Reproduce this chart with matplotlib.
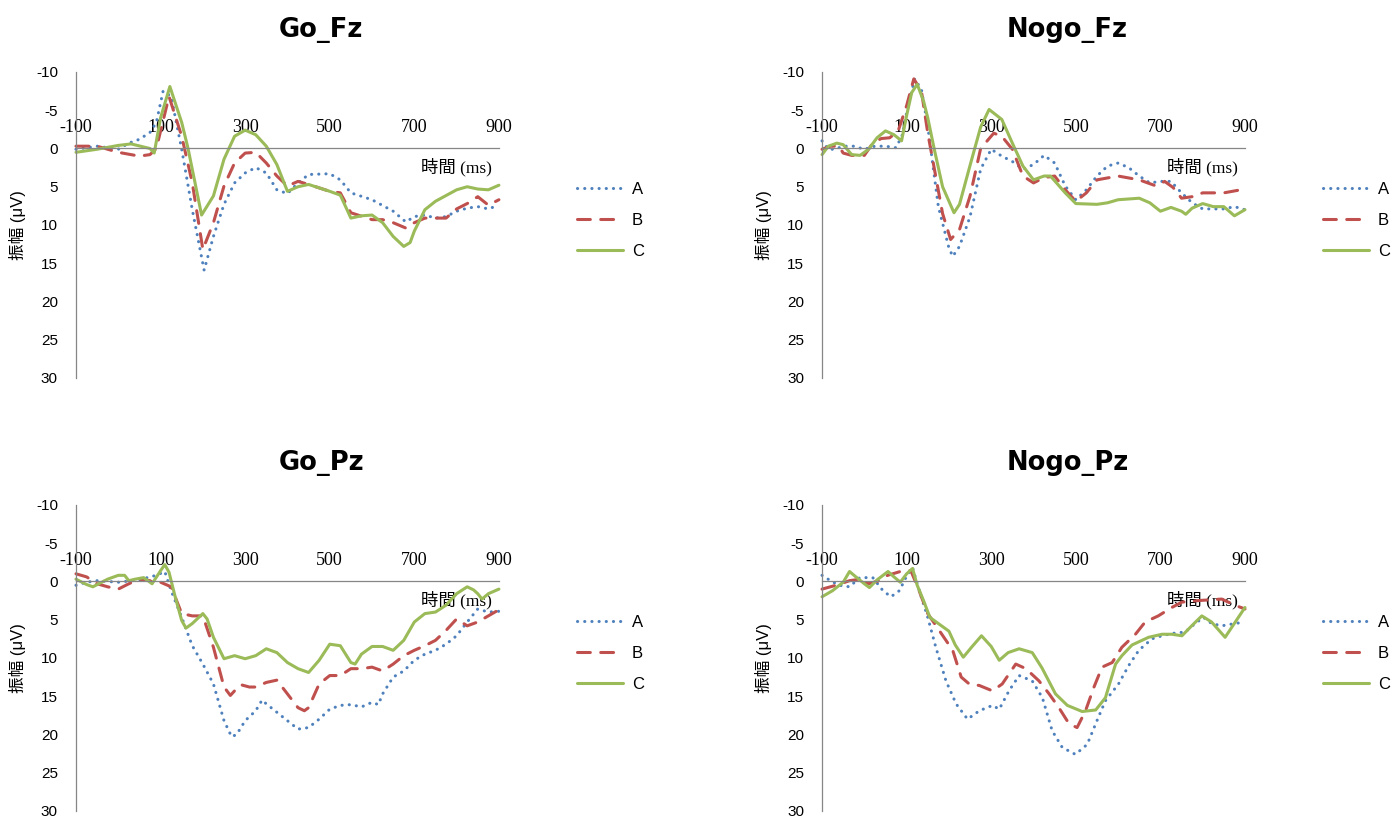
import matplotlib.pyplot as plt

# ERP waveforms (time in ms, amplitude in uV)
# Go_Fz
gofz_a_t = [-100, -50, 0, 25, 50, 75, 90, 106, 125, 150, 175, 203, 225, 250, 275, 300, 325, 350, 375, 400,
            425, 450, 500, 525, 550, 600, 650, 680, 700, 725, 750, 775, 800, 825, 850, 875, 900]
gofz_a_v = [0.1, -0.3, 0.1, -0.7, -1.2, -2.1, -3.4, -7.5, -6.8, 0.1, 8.0, 15.9, 11.5, 7.3, 4.5, 3.2, 2.5, 3.2, 5.4, 5.9,
            4.5, 3.4, 3.3, 4.1, 5.8, 6.7, 8.2, 9.6, 8.9, 8.7, 9.1, 8.9, 8.2, 7.8, 7.6, 7.9, 7.4]
gofz_b_t = [-100, -50, 0, 50, 75, 90, 120, 150, 175, 200, 225, 250, 275, 300, 325, 350, 375, 400, 425, 450,
            500, 525, 550, 600, 625, 650, 680, 700, 725, 750, 775, 800, 825, 850, 875, 900]
gofz_b_v = [-0.3, -0.3, 0.5, 1.0, 0.8, 0.0, -6.8, -1.6, 4.5, 13.2, 9.7, 4.9, 1.9, 0.6, 0.5, 1.9, 3.6, 4.9, 4.3, 4.7,
            5.6, 5.8, 8.4, 9.3, 9.3, 9.7, 10.4, 9.7, 9.1, 9.1, 9.1, 7.9, 7.2, 6.3, 7.4, 6.7]
gofz_c_t = [-100, -50, 0, 30, 75, 85, 100, 122, 150, 165, 197, 225, 250, 275, 300, 325, 350, 375, 400, 425,
            450, 500, 525, 550, 575, 600, 625, 650, 675, 690, 700, 725, 750, 800, 825, 850, 875, 900]
gofz_c_v = [0.5, 0.1, -0.4, -0.6, 0.0, 0.6, -4.0, -8.1, -3.4, 0.0, 8.7, 6.2, 1.4, -1.6, -2.4, -1.8, -0.3, 2.1, 5.6, 5.0,
            4.7, 5.6, 6.1, 9.1, 8.8, 8.7, 9.7, 11.5, 12.8, 12.3, 10.8, 8.0, 6.9, 5.4, 5.0, 5.3, 5.4, 4.8]

# Nogo_Fz
nogofz_a_t = [-100, -85, -70, -50, -25, 0, 25, 50, 75, 90, 100, 119, 135, 150, 175, 200, 209, 225, 250, 275,
              300, 325, 350, 375, 400, 425, 450, 475, 500, 525, 550, 575, 600, 625, 650, 675, 700, 725, 750, 775,
              800, 850, 875, 900]
nogofz_a_v = [-1.0, 0.1, 0.1, -0.3, -0.3, 0.1, -0.3, -0.3, -0.1, -1.8, -4.7, -9.1, -7.7, -2.9, 7.6, 13.0, 14.1, 12.8, 8.9, 2.7,
              0.1, 1.0, 1.7, 2.7, 2.1, 0.9, 1.9, 4.9, 6.7, 5.4, 3.6, 2.3, 1.9, 2.5, 3.6, 4.5, 4.3, 4.3, 5.8, 7.1,
              7.9, 7.9, 7.6, 8.0]
nogofz_b_t = [-100, -80, -60, -50, -30, 0, 20, 40, 60, 80, 100, 117, 135, 150, 170, 185, 204, 225, 250, 275,
              306, 325, 350, 375, 400, 425, 450, 475, 500, 525, 550, 600, 650, 690, 710, 730, 750, 775, 800, 850,
              900]
nogofz_b_v = [0.1, -0.3, -0.3, 0.6, 0.9, 0.9, -0.7, -1.3, -1.4, -2.3, -5.6, -9.1, -7.5, -2.0, 4.0, 8.5, 11.9, 10.6, 6.2, 0.0,
              -2.0, -1.6, 0.1, 3.6, 4.5, 3.8, 3.6, 5.4, 6.9, 5.8, 4.1, 3.6, 4.1, 4.9, 4.3, 5.1, 6.5, 6.3, 5.8, 5.8,
              5.3]
nogofz_c_t = [-100, -85, -65, -50, -30, -10, 10, 30, 50, 70, 88, 100, 112, 125, 140, 150, 165, 185, 212, 225,
              250, 275, 295, 325, 350, 375, 400, 425, 440, 475, 500, 550, 575, 600, 650, 675, 700, 725, 750, 760,
              775, 800, 825, 850, 875, 900]
nogofz_c_v = [0.8, -0.3, -0.7, -0.5, 0.8, 0.9, 0.1, -1.4, -2.3, -1.8, -1.0, -4.3, -7.3, -8.4, -6.2, -4.0, 0.0, 5.0, 8.4, 7.3,
              2.2, -2.8, -5.1, -3.8, -0.7, 2.3, 4.1, 3.6, 3.6, 5.8, 7.2, 7.3, 7.1, 6.7, 6.5, 7.1, 8.2, 7.7, 8.2, 8.6,
              7.8, 7.2, 7.6, 7.6, 8.8, 8.0]

# Go_Pz
gopz_a_t = [-100, -75, -50, 0, 50, 75, 90, 110, 125, 150, 175, 200, 225, 250, 268, 280, 300, 325, 340, 350,
            375, 400, 425, 450, 475, 500, 525, 550, 575, 600, 615, 625, 650, 675, 700, 725, 750, 775, 800, 825,
            850, 875, 900]
gopz_a_v = [0.5, 0.1, -0.1, 0.1, -0.2, -0.6, -0.8, -1.3, 1.2, 4.7, 8.4, 10.8, 13.4, 18.2, 20.3, 20.0, 18.2, 16.9, 15.5, 16.0,
            17.1, 18.2, 19.3, 19.1, 18.0, 16.7, 16.2, 16.1, 16.4, 15.8, 16.1, 14.7, 12.5, 11.7, 10.3, 9.5, 9.0, 8.2, 7.1, 5.3,
            3.6, 4.0, 3.9]
gopz_b_t = [-100, -75, -50, -25, 0, 25, 50, 75, 90, 100, 125, 150, 175, 200, 225, 250, 265, 275, 290, 310,
            325, 350, 375, 400, 425, 440, 450, 475, 500, 525, 550, 575, 600, 625, 650, 675, 700, 725, 750, 775,
            800, 825, 850, 875, 900]
gopz_b_v = [-1.0, -0.6, 0.3, 0.7, 1.0, 0.3, -0.3, -0.1, 0.5, 0.1, 0.7, 4.2, 4.5, 4.5, 8.6, 13.8, 14.9, 14.3, 13.5, 13.8,
            13.8, 13.2, 12.9, 14.7, 16.5, 16.9, 16.5, 13.4, 12.3, 12.3, 11.4, 11.4, 11.2, 11.7, 10.8, 9.7, 9.0, 8.4, 7.7, 6.4,
            4.9, 5.8, 5.3, 4.5, 3.7]
gopz_c_t = [-100, -75, -60, -25, 0, 15, 25, 40, 60, 80, 100, 110, 120, 135, 150, 160, 175, 200, 210, 225,
            250, 275, 300, 325, 350, 375, 400, 425, 450, 475, 500, 525, 550, 560, 575, 600, 625, 650, 675, 700,
            725, 750, 775, 800, 825, 840, 850, 860, 875, 900]
gopz_c_v = [-0.3, 0.4, 0.7, -0.3, -0.8, -0.8, -0.1, -0.3, -0.5, 0.3, -1.4, -2.2, -1.2, 2.1, 5.1, 6.1, 5.5, 4.2, 4.9, 7.3,
            10.1, 9.7, 10.1, 9.7, 8.8, 9.3, 10.6, 11.4, 11.9, 10.3, 8.2, 8.4, 10.6, 10.8, 9.5, 8.5, 8.5, 9.0, 7.7, 5.3,
            4.2, 4.0, 3.1, 1.6, 0.7, 1.1, 1.6, 2.3, 1.6, 1.0]

# Nogo_Pz
nogopz_a_t = [-100, -80, -60, -35, -11, 20, 44, 63, 83, 99, 114, 126, 150, 169, 193, 217, 244, 272, 303, 319,
              342, 366, 397, 421, 444, 468, 499, 527, 550, 570, 601, 625, 649, 680, 704, 727, 759, 782, 802, 821,
              845, 876, 900]
nogopz_a_v = [-0.8, -0.1, 0.5, 0.7, -0.5, -0.5, 1.2, 2.0, 1.2, -0.6, -1.8, 0.5, 4.7, 8.6, 13.0, 16.0, 18.0, 16.9, 16.2, 16.7,
              14.3, 12.3, 13.0, 15.2, 19.5, 21.7, 22.6, 21.3, 18.2, 15.6, 13.4, 11.0, 9.0, 7.5, 7.1, 6.8, 6.6, 5.5, 4.7, 5.5,
              5.8, 5.5, 5.3]
nogopz_b_t = [-100, -67, -35, -10, 10, 35, 55, 91, 110, 126, 150, 177, 209, 229, 248, 272, 303, 326, 358, 382,
              413, 437, 460, 484, 503, 523, 543, 562, 586, 609, 641, 664, 695, 727, 751, 790, 845, 876, 900]
nogopz_b_v = [1.0, 0.5, -0.1, -0.3, 0.3, -0.1, -0.8, -1.4, -1.4, 0.7, 4.2, 6.4, 9.0, 12.5, 13.4, 13.6, 14.3, 13.4, 10.8, 11.4,
              13.0, 14.7, 16.5, 18.6, 19.1, 16.9, 13.8, 11.2, 10.6, 8.6, 6.9, 5.3, 4.5, 3.4, 2.7, 2.5, 2.3, 3.1, 3.6]
nogopz_c_t = [-100, -75, -50, -35, -20, 0, 12, 30, 56, 70, 85, 100, 114, 125, 140, 155, 175, 200, 215, 234,
              255, 277, 300, 319, 340, 366, 397, 420, 452, 480, 515, 547, 570, 594, 609, 633, 672, 704, 727, 751,
              774, 798, 821, 853, 900]
nogopz_c_v = [2.0, 1.2, 0.1, -1.3, -0.6, 0.3, 0.8, -0.2, -1.3, -0.6, 0.1, -1.0, -1.7, 0.5, 2.5, 4.7, 5.5, 6.5, 8.3, 9.9,
              8.5, 7.1, 8.5, 10.3, 9.3, 8.8, 9.3, 11.3, 14.7, 16.2, 17.0, 16.8, 15.2, 10.8, 9.7, 8.3, 7.3, 6.9, 6.9, 7.1,
              5.8, 4.5, 5.3, 7.3, 3.4]

titles = ['Go_Fz', 'Nogo_Fz', 'Go_Pz', 'Nogo_Pz']
labels = ['A', 'B', 'C']
x_ticks = [-100, 100, 300, 500, 700, 900]
y_ticks = [-10, -5, 0, 5, 10, 15, 20, 25, 30]

panels = [
    [(gofz_a_t, gofz_a_v), (gofz_b_t, gofz_b_v), (gofz_c_t, gofz_c_v)],
    [(nogofz_a_t, nogofz_a_v), (nogofz_b_t, nogofz_b_v), (nogofz_c_t, nogofz_c_v)],
    [(gopz_a_t, gopz_a_v), (gopz_b_t, gopz_b_v), (gopz_c_t, gopz_c_v)],
    [(nogopz_a_t, nogopz_a_v), (nogopz_b_t, nogopz_b_v), (nogopz_c_t, nogopz_c_v)],
]

colors = ['#4F81BD', '#C0504D', '#9BBB59']
lw = 2.2
styles = [dict(dashes=(0.05, 2.3), dash_capstyle='round'),
          dict(dashes=(4.2, 3.4), dash_capstyle='round'),
          dict(linestyle='-', solid_capstyle='round')]

plt.rcParams['font.family'] = ['Liberation Sans', 'Noto Sans CJK TC']
plt.rcParams['axes.unicode_minus'] = False

fig = plt.figure(figsize=(13.94, 8.18), dpi=100)
lefts = [0.0545, 0.5897, 0.0545, 0.5897]
bottoms = [0.5379, 0.5379, 0.0086, 0.0086]

for i, series in enumerate(panels):
    ax = fig.add_axes([lefts[i], bottoms[i], 0.3034, 0.3741])
    for (t, v), c, st, lab in zip(series, colors, styles, labels):
        ax.plot(t, v, color=c, lw=lw, label=lab, clip_on=False, **st)

    ax.set_xlim(-100, 900)
    ax.set_ylim(30, -10)
    ax.set_yticks(y_ticks)
    ax.set_xticks(x_ticks)
    ax.tick_params(axis='y', length=0, pad=13, labelsize=11)
    ax.xaxis.set_ticks_position('top')
    ax.tick_params(axis='x', length=0, pad=9, labelsize=13, labelfontfamily='Liberation Serif')

    for s in ['right', 'bottom']:
        ax.spines[s].set_visible(False)
    ax.spines['top'].set_position(('data', 0))
    ax.spines['top'].set_color('#868686')
    ax.spines['left'].set_color('#868686')
    ax.spines['top'].set_linewidth(0.9)
    ax.spines['left'].set_linewidth(0.9)

    ax.set_xlabel('時間 (ms)', family=['Liberation Serif', 'Noto Sans CJK TC'], fontsize=12.5)
    ax.xaxis.set_label_coords(0.9, 0.69)
    ax.xaxis.label.set_va('center')
    ax.set_ylabel('振幅 (μV)', fontsize=12)
    ax.yaxis.set_label_coords(-0.118, 0.5)

    ax.text(0.58, 1.137, titles[i], transform=ax.transAxes, ha='center', va='center',
            fontsize=18.5, fontweight='bold', family='DejaVu Sans')

    ax.legend(loc='upper left', bbox_to_anchor=(1.184, 0.64), frameon=False, fontsize=12,
              borderpad=0, borderaxespad=0, handlelength=2.8, handletextpad=0.5, labelspacing=0.95)

fig.savefig('out.png', dpi=100)
